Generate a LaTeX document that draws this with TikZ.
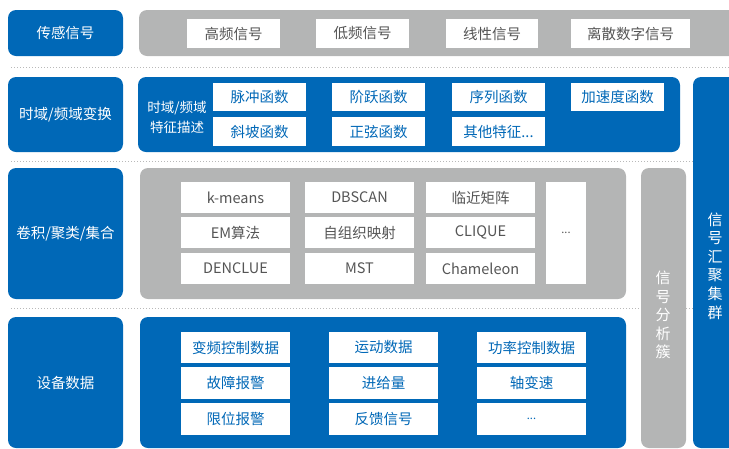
\documentclass[tikz,border=0pt]{standalone}
\usepackage{fontspec}
\newfontfamily\cjk{Noto Sans CJK SC}
\definecolor{mblue}{RGB}{0,104,183}
\definecolor{mgray}{RGB}{180,181,181}
\definecolor{tgray}{RGB}{85,85,85}
\definecolor{dotc}{RGB}{185,185,185}
\newcommand\bx[7]{%
  \node[#1, minimum width={(#5)-(#3)}, minimum height={(#6)-(#4)}] (#2) at ({((#3)+(#5))/2},{((#4)+(#6))/2}) {#7};}
\tikzset{
  base/.style={inner sep=0pt, outer sep=0pt, font=\cjk\fontsize{14.5}{16}\selectfont},
  gcell/.style={base, fill=white, text=tgray},
  bcell/.style={base, fill=white, text=mblue},
  lab/.style={base, fill=mblue, rounded corners=8pt, text=white},
  gpanel/.style={base, fill=mgray, rounded corners=8pt},
  bpanel/.style={base, fill=mblue, rounded corners=8pt},
  sep/.style={draw=dotc, line width=1pt, dash pattern=on 1pt off 2pt},
  vtext/.style={inner sep=0pt, text=white, align=center, font=\cjk\fontsize{15}{18.6}\selectfont}
}
\begin{document}
\begin{tikzpicture}[x=1pt,y=-1pt]
\useasboundingbox (0,0) rectangle (729,448);
\clip (0,0) rectangle (729,448);
% separators
\coordinate (s1a) at (11,67);  \coordinate (s1b) at (729,67);
\coordinate (s2a) at (11,161); \coordinate (s2b) at (729,161);
\coordinate (s3a) at (11,308); \coordinate (s3b) at (729,308);
\draw[sep] (s1a) -- (s1b);
\draw[sep] (s2a) -- (s2b);
\draw[sep] (s3a) -- (s3b);
% row 1
\bx{lab}{l1}{8}{10}{123}{56}{传感信号}
\bx{gpanel}{p1}{139}{10}{770}{56}{}
\bx{gcell}{c11}{187}{19}{280}{48}{高频信号}
\bx{gcell}{c12}{316}{19}{409}{48}{低频信号}
\bx{gcell}{c13}{446}{19}{538}{48}{线性信号}
\bx{gcell}{c14}{571}{19}{690}{48}{离散数字信号}
% row 2
\bx{lab}{l2}{8}{77}{123}{152}{时域/频域变换}
\bx{bpanel}{p2}{138}{77}{680}{152}{}
\node[inner sep=0pt, text=white, align=center, font=\cjk\fontsize{13.5}{20}\selectfont] (d2) at (177,117) {时域/频域\\特征描述};
\bx{bcell}{c21}{213}{83}{306}{111}{脉冲函数}
\bx{bcell}{c22}{332}{83}{425}{111}{阶跃函数}
\bx{bcell}{c23}{452}{83}{545}{111}{序列函数}
\bx{bcell}{c24}{571}{83}{664}{111}{加速度函数}
\bx{bcell}{c25}{213}{117}{306}{146}{斜坡函数}
\bx{bcell}{c26}{332}{117}{425}{146}{正弦函数}
\bx{bcell}{c27}{452}{117}{545}{146}{其他特征...}
% right tall box
\bx{bpanel}{rb}{693}{77}{770}{448}{}
\node[vtext] (rbt) at (715,266) {信\\号\\汇\\聚\\集\\群};
% row 3
\bx{lab}{l3}{8}{168}{123}{299}{卷积/聚类/集合}
\bx{gpanel}{p3}{140}{168}{626}{299}{}
\bx{gcell}{c31}{181}{182}{290}{213}{k-means}
\bx{gcell}{c32}{305}{182}{414}{213}{DBSCAN}
\bx{gcell}{c33}{426}{182}{535}{213}{临近矩阵}
\bx{gcell}{c34}{181}{217}{290}{248}{EM算法}
\bx{gcell}{c35}{305}{217}{414}{248}{自组织映射}
\bx{gcell}{c36}{426}{217}{535}{248}{CLIQUE}
\bx{gcell}{c37}{181}{253}{290}{284}{DENCLUE}
\bx{gcell}{c38}{305}{253}{414}{284}{MST}
\bx{gcell}{c39}{426}{253}{535}{284}{Chameleon}
\bx{gcell}{c3x}{546}{182}{586}{284}{\fontsize{11}{12}\selectfont ...}
% analysis column
\bx{gpanel}{ga}{641}{168}{686}{448}{}
\node[vtext] (gat) at (663,315) {信\\号\\分\\析\\簇};
% row 4
\bx{lab}{l4}{8}{317}{123}{448}{设备数据}
\bx{bpanel}{p4}{140}{317}{626}{448}{}
\bx{bcell}{c41}{181}{332}{290}{363}{变频控制数据}
\bx{bcell}{c42}{329}{332}{438}{363}{运动数据}
\bx{bcell}{c43}{477}{332}{586}{363}{功率控制数据}
\bx{bcell}{c44}{181}{367}{290}{399}{故障报警}
\bx{bcell}{c45}{329}{367}{438}{399}{进给量}
\bx{bcell}{c46}{477}{367}{586}{399}{轴变速}
\bx{bcell}{c47}{181}{403}{290}{435}{限位报警}
\bx{bcell}{c48}{329}{403}{438}{435}{反馈信号}
\bx{bcell}{c49}{477}{403}{586}{435}{\fontsize{11}{12}\selectfont ...}
\end{tikzpicture}
\end{document}
